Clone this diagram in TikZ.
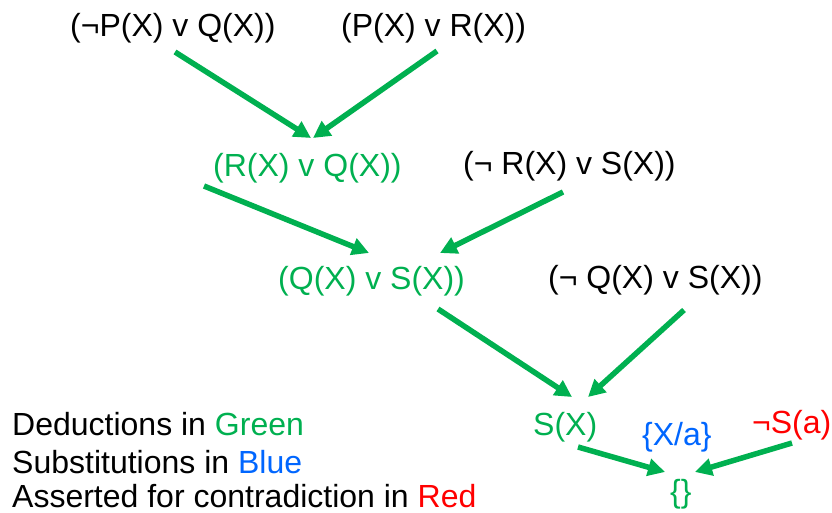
\documentclass[tikz,border=0pt]{standalone}
\usepackage{fontspec}
\setmainfont{Liberation Sans}
\usetikzlibrary{arrows.meta,calc}
\definecolor{dgreen}{HTML}{00B050}
\definecolor{dblue}{HTML}{0066FF}
\definecolor{dred}{HTML}{FF0000}
\begin{document}
\begin{tikzpicture}[x=1pt,y=-1pt,
  txt/.style={anchor=base west,inner sep=0pt,font=\fontsize{32}{38}\selectfont},
  arr/.style={draw=dgreen,line width=5.5pt,-{Triangle[length=17pt,width=17pt]}}]
\useasboundingbox (0,0) rectangle (832,513);
\node[txt] (n1) at (70,37) {(¬P(X) v Q(X))};
\node[txt] (n2) at (341,37) {(P(X) v R(X))};
\node[txt,text=dgreen] (n3) at (213,177) {(R(X) v Q(X))};
\node[txt] (n4) at (463,175) {(¬ R(X) v S(X))};
\node[txt,text=dgreen] (n5) at (278,289) {(Q(X) v S(X))};
\node[txt] (n6) at (548,288) {(¬ Q(X) v S(X))};
\node[txt,text=dgreen] (n7) at (533,435) {S(X)};
\node[txt,text=dblue] (n8) at (642,445) {\{X/a\}};
\node[txt,text=dred] (n9) at (752,433) {¬S(a)};
\node[txt,text=dgreen] (n10) at (670,502) {\{\}};
\node[txt] (l1) at (12,435) {Deductions in \textcolor{dgreen}{Green}};
\node[txt] (l2) at (12,473) {Substitutions in \textcolor{dblue}{Blue}};
\node[txt] (l3) at (12,507) {Asserted for contradiction in \textcolor{dred}{Red}};
\draw[arr] ($(n1.base west)+(105,15)$) -- ($(n3.base west)+(98,-39)$);
\draw[arr] ($(n2.base west)+(96,14)$) -- ($(n3.base west)+(100,-39)$);
\draw[arr] ($(n3.base west)+(-9,9)$) -- ($(n5.base west)+(91,-36)$);
\draw[arr] ($(n4.base west)+(100,17)$) -- ($(n5.base west)+(162,-36)$);
\draw[arr] ($(n5.base west)+(160,20)$) -- ($(n7.base west)+(39,-38)$);
\draw[arr] ($(n6.base west)+(136,22)$) -- ($(n7.base west)+(55,-38)$);
\draw[arr] ($(n7.base west)+(45,12)$) -- ($(n10.base west)+(-5,-30)$);
\draw[arr] ($(n9.base west)+(40,10)$) -- ($(n10.base west)+(25,-30)$);
\end{tikzpicture}
\end{document}
